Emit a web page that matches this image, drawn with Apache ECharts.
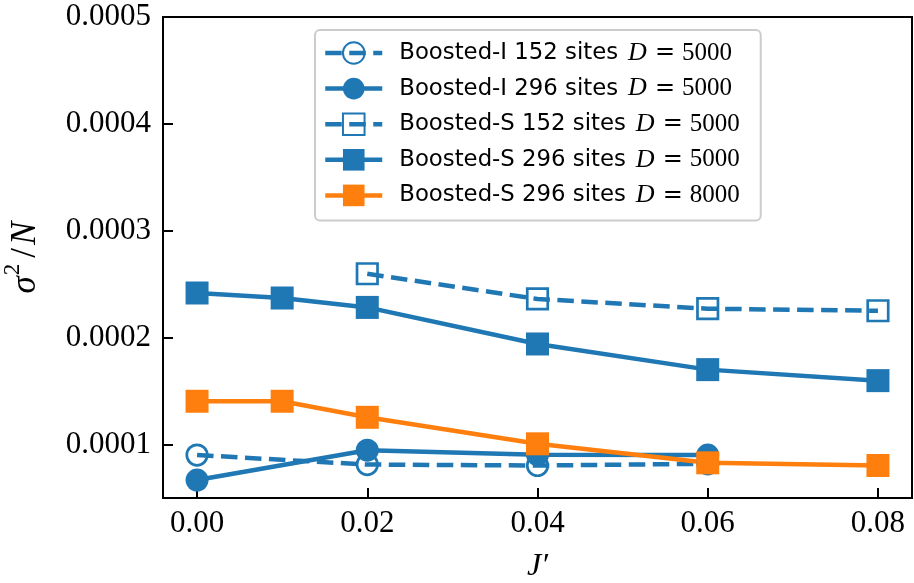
<!DOCTYPE html>
<html>
<head>
<meta charset="utf-8">
<title>sigma^2/N versus J'</title>
<script src="https://cdn.jsdelivr.net/npm/echarts@6/dist/echarts.min.js"></script>
<style>
  html, body { margin: 0; padding: 0; background: #ffffff; }
  #chart { width: 914px; height: 583px; }
</style>
</head>
<body>
<div id="chart"></div>
<script>
// Variance per site, sigma^2/N, as a function of the coupling J'
const xTicks = [0.00, 0.02, 0.04, 0.06, 0.08];
const yTicks = [0.0001, 0.0002, 0.0003, 0.0004, 0.0005];

// Boosted-I, 152 sites, D = 5000
const jI152 = [0.00, 0.02, 0.04, 0.06];
const sI152 = [0.0000902, 0.0000813, 0.0000804, 0.0000820];
// Boosted-I, 296 sites, D = 5000
const jI296 = [0.00, 0.02, 0.04, 0.06];
const sI296 = [0.0000668, 0.0000947, 0.0000905, 0.0000902];
// Boosted-S, 152 sites, D = 5000
const jS152 = [0.02, 0.04, 0.06, 0.08];
const sS152 = [0.0002598, 0.0002362, 0.0002271, 0.0002252];
// Boosted-S, 296 sites, D = 5000
const jS296 = [0.00, 0.01, 0.02, 0.04, 0.06, 0.08];
const sS296 = [0.0002418, 0.0002371, 0.0002283, 0.0001941, 0.0001701, 0.0001598];
// Boosted-S, 296 sites, D = 8000
const jS296D8 = [0.00, 0.01, 0.02, 0.04, 0.06, 0.08];
const sS296D8 = [0.0001405, 0.0001405, 0.0001255, 0.0001007, 0.0000829, 0.0000804];

const seriesLabels = ['Boosted-I 152 sites', 'Boosted-I 296 sites', 'Boosted-S 152 sites', 'Boosted-S 296 sites', 'Boosted-S 296 sites'];
const bondDims = ['5000', '5000', '5000', '5000', '8000'];

const BLUE = '#1f77b4';
const ORANGE = '#ff7f0e';
const SERIF = '"Liberation Serif", "DejaVu Serif", serif';
const SANS = '"DejaVu Sans", sans-serif';
const LINE_W = 4.5;
const DASH = [16.5, 7.5];

const pairs = (xs, ys) => xs.map((x, i) => [x, ys[i]]);

function makeSeries(idx, xs, ys, opts) {
  const hollow = opts.hollow;
  const color = opts.color;
  return {
    name: seriesLabels[idx] + ' D=' + bondDims[idx],
    type: 'line',
    data: pairs(xs, ys),
    symbol: opts.symbol,
    symbolSize: hollow ? 20.5 : 23,
    showAllSymbol: true,
    animation: false,
    lineStyle: {
      color: color,
      width: LINE_W,
      type: opts.dashed ? DASH : 'solid',
      cap: 'butt'
    },
    itemStyle: hollow
      ? { color: 'rgba(255,255,255,0)', borderColor: color, borderWidth: 2.7 }
      : { color: color, borderWidth: 0 },
    emphasis: { disabled: true }
  };
}

const chart = echarts.init(document.getElementById('chart'), null, { renderer: 'canvas' });

chart.setOption({
  backgroundColor: '#ffffff',
  animation: false,
  grid: {
    left: 163, top: 17, width: 749, height: 481,
    outerBoundsMode: 'none',
    containLabel: false,
    show: true, borderColor: '#000', borderWidth: 2, backgroundColor: 'transparent'
  },
  legend: {
    orient: 'vertical',
    left: 315, top: 30,
    padding: [10, 21, 12, 8],
    itemWidth: 57, itemHeight: 27, itemGap: 9.6,
    backgroundColor: '#ffffff',
    borderColor: '#cccccc', borderWidth: 2, borderRadius: 5,
    selectedMode: false,
    lineStyle: { width: LINE_W },
    formatter: function (name) {
      const i = name.lastIndexOf(' D=');
      const label = name.slice(0, i);
      const d = name.slice(i + 3);
      return '{t|' + label + '}{m|D}{e|=}{r|' + d + '}';
    },
    textStyle: {
      color: '#000',
      lineHeight: 24,
      rich: {
        t: { fontFamily: SANS, fontSize: 22.8, lineHeight: 24, color: '#000', padding: [0, 10, 0, 12] },
        m: { fontFamily: SERIF, fontStyle: 'italic', fontSize: 26, lineHeight: 24, color: '#000' },
        e: { fontFamily: '"DejaVu Serif", serif', fontSize: 24, lineHeight: 24, color: '#000', padding: [0, 7, 0, 8] },
        r: { fontFamily: SERIF, fontSize: 25, lineHeight: 24, color: '#000' }
      }
    }
  },
  xAxis: {
    type: 'value',
    min: -0.004, max: 0.084,
    name: 'J′',
    nameLocation: 'middle',
    nameGap: 53,
    nameTextStyle: { fontFamily: SERIF, fontStyle: 'italic', fontSize: 32, color: '#000' },
    axisLine: { show: true, onZero: false, lineStyle: { color: '#000', width: 2 } },
    axisTick: { show: true, inside: true, length: 10, lineStyle: { color: '#000', width: 2 }, customValues: xTicks },
    axisLabel: {
      customValues: xTicks,
      margin: 10,
      fontFamily: SERIF, fontSize: 31, color: '#000',
      formatter: v => v.toFixed(2)
    },
    splitLine: { show: false }
  },
  yAxis: {
    type: 'value',
    min: 0.00005, max: 0.0005,
    name: '{s|σ}{p|2}{sl|/}{n|N}',
    nameLocation: 'middle',
    nameRotate: 90,
    nameGap: 120,
    nameTextStyle: {
      color: '#000',
      rich: {
        s: { fontFamily: SERIF, fontStyle: 'italic', fontSize: 35, lineHeight: 42, verticalAlign: 'bottom' },
        p: { fontFamily: SERIF, fontSize: 23, lineHeight: 23, verticalAlign: 'top', padding: [0, 3, 0, 1] },
        sl: { fontFamily: SERIF, fontSize: 35, lineHeight: 42, verticalAlign: 'bottom', padding: [0, 3, 0, 3] },
        n: { fontFamily: SERIF, fontStyle: 'italic', fontSize: 35, lineHeight: 42, verticalAlign: 'bottom' }
      }
    },
    axisLine: { show: true, onZero: false, lineStyle: { color: '#000', width: 2 } },
    axisTick: { show: true, inside: true, length: 10, lineStyle: { color: '#000', width: 2 }, customValues: yTicks },
    axisLabel: {
      customValues: yTicks,
      margin: 12,
      fontFamily: SERIF, fontSize: 31, color: '#000',
      formatter: v => v.toFixed(4)
    },
    splitLine: { show: false }
  },
  series: [
    makeSeries(0, jI152, sI152, { symbol: 'circle', hollow: true, dashed: true, color: BLUE }),
    makeSeries(1, jI296, sI296, { symbol: 'circle', hollow: false, dashed: false, color: BLUE }),
    makeSeries(2, jS152, sS152, { symbol: 'rect', hollow: true, dashed: true, color: BLUE }),
    makeSeries(3, jS296, sS296, { symbol: 'rect', hollow: false, dashed: false, color: BLUE }),
    makeSeries(4, jS296D8, sS296D8, { symbol: 'rect', hollow: false, dashed: false, color: ORANGE })
  ]
});
</script>
</body>
</html>
